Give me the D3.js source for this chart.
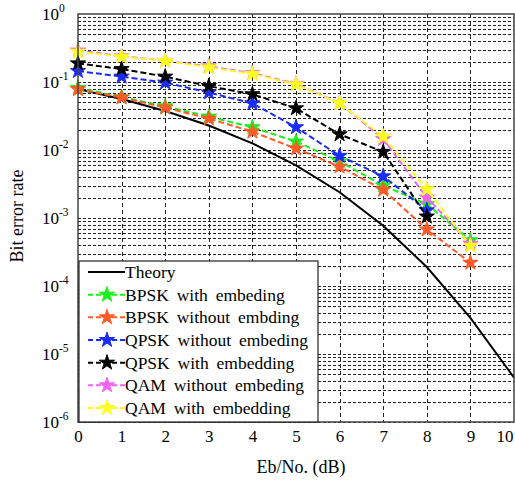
<!DOCTYPE html>
<html><head><meta charset="utf-8">
<script src="https://cdn.jsdelivr.net/npm/d3@7"></script>
<style>
body{margin:0;background:#fff;}
</style></head>
<body><svg id="c" width="515" height="481" font-family="Liberation Serif"></svg>
<script>
const ebno = [0,1,2,3,4,5,6,7,8,9,10];
const theory = [0.0786,0.0563,0.0375,0.0229,0.0125,0.00595,0.00239,0.00077,0.00019,0.000034,0.0000045];
const bpskWith = [0.082,0.060,0.044,0.031,0.0216,0.0133,0.0068,0.0030,0.0016,0.00047];
const bpskWithout = [0.078,0.059,0.042,0.029,0.0186,0.0105,0.0057,0.0026,0.00068,0.00022];
const qpskWithout = [0.145,0.120,0.098,0.070,0.0486,0.0216,0.0082,0.0041,0.0013];
const qpskWith = [0.188,0.155,0.120,0.087,0.066,0.041,0.0170,0.0094,0.00105];
const qamWithout = [0.29,0.24,0.205,0.17,0.135,0.094,0.049,0.0145,0.0020,0.00042];
const qamWith = [0.279,0.236,0.204,0.164,0.131,0.092,0.0486,0.0157,0.00264,0.00039];
const seriesNames = ["BPSK with embeding","BPSK without embding","QPSK without embeding","QPSK with embedding","QAM without embeding","QAM with embedding"];
const seriesValues = [bpskWith,bpskWithout,qpskWithout,qpskWith,qamWithout,qamWith];
const seriesColors = ["#19f019","#ff5a28","#1a2cf5","#000000","#f064f0","#ffff1e"];
const xTicks = [0,1,2,3,4,5,6,7,8,9,10];
const yExps = [0,-1,-2,-3,-4,-5,-6];

const FONT = "Liberation Serif";
const svg = d3.select("#c");
const L=78, R=514, T=14, B=422;
const x = d3.scaleLinear().domain([0,10]).range([L,R]);
const y = d3.scaleLog().domain([1e-6,1]).range([B,T]);

// grid
const g = svg.append("g").attr("shape-rendering","crispEdges");
const minor = [];
for (let e=-6;e<0;e++) for (let m=1;m<10;m++) minor.push(m*Math.pow(10,e));
g.selectAll(".hg").data(minor).join("line")
  .attr("x1",L).attr("x2",R).attr("y1",d=>Math.round(y(d))+0.5).attr("y2",d=>Math.round(y(d))+0.5)
  .attr("stroke","#222").attr("stroke-width",1).attr("stroke-dasharray","3,2");
g.selectAll(".vg").data(xTicks.slice(1,-1)).join("line")
  .attr("x1",d=>Math.round(x(d))+0.5).attr("x2",d=>Math.round(x(d))+0.5).attr("y1",T).attr("y2",B)
  .attr("stroke","#222").attr("stroke-width",1).attr("stroke-dasharray","4,3");

// theory
const line = d3.line().x(d=>x(d[0])).y(d=>y(d[1]));
svg.append("path").datum(theory.map((v,i)=>[ebno[i],v]))
  .attr("d",line).attr("fill","none").attr("stroke","#000").attr("stroke-width",2);

const star = d3.symbol().type(d3.symbolStar).size(72);
seriesValues.forEach((vals,k)=>{
  const pts = vals.map((v,i)=>[ebno[i],v]);
  const sg = svg.append("g");
  sg.append("path").datum(pts).attr("d",line).attr("fill","none")
    .attr("stroke",seriesColors[k]).attr("stroke-width",2).attr("stroke-dasharray","6,3");
  sg.selectAll("path.m").data(pts).join("path").attr("class","m")
    .attr("transform",d=>`translate(${x(d[0])},${y(d[1])})`)
    .attr("d",star).attr("fill",seriesColors[k]).attr("stroke",seriesColors[k]).attr("stroke-width",1);
});

// frame
svg.append("rect").attr("x",L).attr("y",T).attr("width",R-L).attr("height",B-T)
  .attr("fill","none").attr("stroke","#444").attr("stroke-width",1.5);

// x axis labels
const xa = svg.append("g").attr("transform",`translate(0,${B})`)
  .call(d3.axisBottom(x).tickValues(xTicks).tickSize(0).tickPadding(0).tickFormat(d3.format("d")));
xa.attr("font-family",FONT).attr("font-size",17);
xa.select(".domain").remove();
xa.selectAll("text").attr("y",20).attr("dy",0).attr("fill","#000");
xa.selectAll(".tick").filter(d=>d===10).select("text").attr("text-anchor","end").attr("x",-1);

// y labels
const ya = svg.append("g").attr("font-family",FONT);
yExps.forEach(e=>{
  const t = ya.append("text").attr("x",42).attr("y",y(Math.pow(10,e))+6)
    .attr("font-size","17px").attr("fill","#000");
  t.append("tspan").text("10");
  t.append("tspan").attr("dy",-8).attr("font-size","11.5px").text(e===0?"0":"-"+(-e));
});

// axis titles
svg.append("text").attr("x",301).attr("y",473).attr("text-anchor","middle")
  .attr("font-family",FONT).attr("font-size","18px").text("Eb/No. (dB)");
svg.append("text").attr("transform","translate(23,216) rotate(-90)").attr("text-anchor","middle")
  .attr("font-family",FONT).attr("font-size","18px").text("Bit error rate");

// legend
const lg = svg.append("g").attr("font-family",FONT);
lg.append("rect").attr("x",79).attr("y",261).attr("width",239).attr("height",B-261)
  .attr("fill","#fff").attr("stroke","#222").attr("stroke-width",1.2);
const names = ["Theory"].concat(seriesNames);
const colors = ["#000"].concat(seriesColors);
const ly = d3.scalePoint().domain(names).range([272,408]);
names.forEach((n,i)=>{
  const yy = ly(n);
  lg.append("line").attr("x1",88).attr("x2",125).attr("y1",yy).attr("y2",yy)
    .attr("stroke",colors[i]).attr("stroke-width",2).attr("stroke-dasharray",i===0?null:"5,3");
  if (i>0) lg.append("path").attr("transform",`translate(107,${yy})`).attr("d",star)
    .attr("fill",colors[i]).attr("stroke",colors[i]);
  lg.append("text").attr("x",125).attr("y",yy+6).attr("font-size","17.5px")
    .attr("word-spacing","3.5px").text(n);
});
</script></body></html>
